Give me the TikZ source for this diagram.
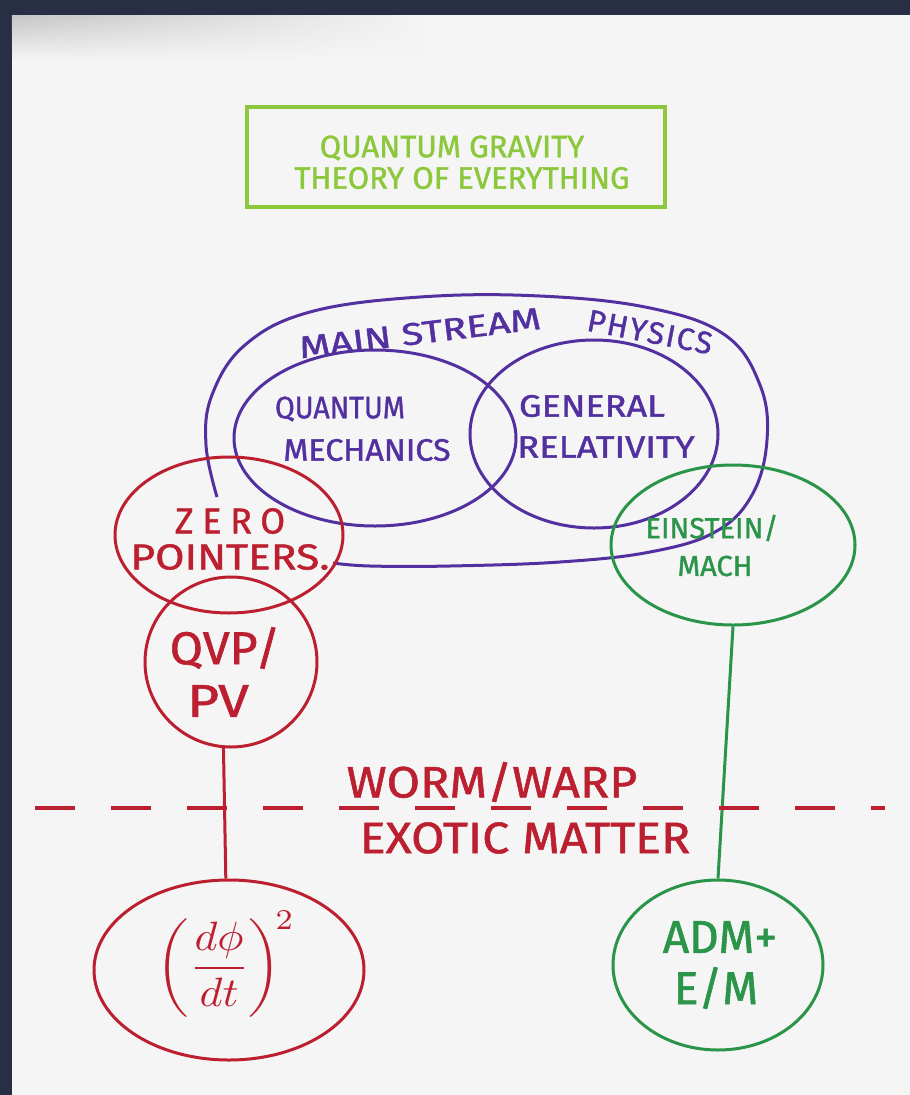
\documentclass[tikz,border=0pt]{standalone}
\usepackage{fontspec}
\usepackage{graphicx}
\setmainfont{Fira Sans}[FakeBold=1.2]
\usetikzlibrary{shapes.geometric,fadings}
\definecolor{paper}{RGB}{245,245,245}
\definecolor{frame}{RGB}{40,46,68}
\definecolor{lime}{RGB}{140,200,60}
\definecolor{purp}{RGB}{82,48,160}
\definecolor{pred}{RGB}{188,32,48}
\definecolor{pgreen}{RGB}{42,148,72}
\newcommand\sx[2]{\scalebox{#1}[1]{#2}}
\newcommand\fs[1]{\fontsize{#1}{#1}\selectfont}
\begin{document}
\begin{tikzpicture}[x=1pt,y=-1pt,
  every node/.style={inner sep=0pt, align=center},
  oval/.style={ellipse, draw, line width=3pt},
  redoval/.style={oval, draw=pred},
  greenoval/.style={oval, draw=pgreen},
  purpoval/.style={oval, draw=purp},
  ptxt/.style={text=purp, font=\fs{31}},
  rtxt/.style={text=pred},
  gtxt/.style={text=pgreen},
  link/.style={line width=3pt}
]
\fill[frame] (0,0) rectangle (910,1095);
\fill[paper] (12,15) rectangle (910,1095);
\shade[left color=gray!45, right color=paper, path fading=south] (12,15) rectangle (430,60);
\useasboundingbox (0,0) rectangle (910,1095);

% title box
\node[draw=lime, line width=4pt, minimum width=418pt, minimum height=100pt] (toe) at (456,157) {};
\node[text=lime, font=\fs{31}] (toe1) at (452,148) {QUANTUM GRAVITY};
\node[text=lime, font=\fs{31}] (toe2) at (462,178) {THEORY OF EVERYTHING};

% mainstream physics loop
\draw[purp, line width=3pt] plot[smooth, tension=0.65] coordinates {
  (217,497) (206,445) (212,395) (245,345) (310,312) (420,297) (540,296)
  (650,308) (725,335) (760,385) (767,440) (752,495) (715,532) (650,552)
  (560,562) (450,566) (370,566) (333,563)};
\node[ptxt, rotate=7] (msp1) at (420,333) {\sx{1.28}{MAIN STREAM}};
\node[ptxt, rotate=-11, font=\fs{31}\addfontfeature{LetterSpace=6}] (msp2) at (650,332) {PHYSICS};

% QM and GR
\node[purpoval, minimum width=282pt, minimum height=176pt] (qm) at (375,438) {};
\node[purpoval, minimum width=248pt, minimum height=188pt] (gr) at (594,434) {};
\node[ptxt] (qm1) at (340,409) {\sx{0.92}{QUANTUM}};
\node[ptxt] (qm2) at (367,450) {\sx{1.04}{MECHANICS}};
\node[ptxt] (gr1) at (592,406) {\sx{1.16}{GENERAL}};
\node[ptxt] (gr2) at (606,447) {\sx{1.17}{RELATIVITY}};

% red side
\node[redoval, minimum width=228pt, minimum height=156pt] (zero) at (229,535) {};
\node[rtxt, font=\fs{36}\addfontfeature{LetterSpace=24}] (zero1) at (230,521) {ZERO};
\node[rtxt, font=\fs{36}] (zero2) at (230,557) {\sx{1.18}{POINTERS.}};
\node[redoval, minimum width=172pt, minimum height=170pt] (qvp) at (231,662) {};
\node[rtxt, font=\fs{46}] (qvp1) at (225,648) {\sx{1.05}{QVP/}};
\node[rtxt, font=\fs{46}] (qvp2) at (218,701) {\sx{1.2}{PV}};
\node[redoval, minimum width=270pt, minimum height=180pt] (dphi) at (229,970) {};
\node[rtxt] (dphit) at (226,964)
      {\scalebox{4.4}[4.1]{$\displaystyle\left(\frac{d\phi}{dt}\right)^{\!2}$}};
\draw[pred, link] (qvp.-95) -- (dphi.92);

% green side
\node[greenoval, minimum width=244pt, minimum height=160pt] (ein) at (733,545) {};
\node[gtxt, font=\fs{29}] (ein1) at (712,528) {EINSTEIN/};
\node[gtxt, font=\fs{29}] (ein2) at (715,566) {MACH};
\node[greenoval, minimum width=210pt, minimum height=170pt] (adm) at (718,965) {};
\node[gtxt, font=\fs{46}] (adm1) at (720,937) {ADM+};
\node[gtxt, font=\fs{46}] (adm2) at (716,988) {E/M};
\draw[pgreen, link] (ein.south) -- (adm.north);

% dashed boundary
\coordinate (dl) at (35,808);
\coordinate (dr) at (885,808);
\draw[pred, line width=4pt, dash pattern=on 40pt off 36pt] (dl) -- (dr);
\node[rtxt, font=\fs{44}] (worm) at (492,782) {\sx{1.1}{WORM/WARP}};
\node[rtxt, font=\fs{44}] (exotic) at (525,838) {\sx{1.1}{EXOTIC MATTER}};
\end{tikzpicture}
\end{document}
